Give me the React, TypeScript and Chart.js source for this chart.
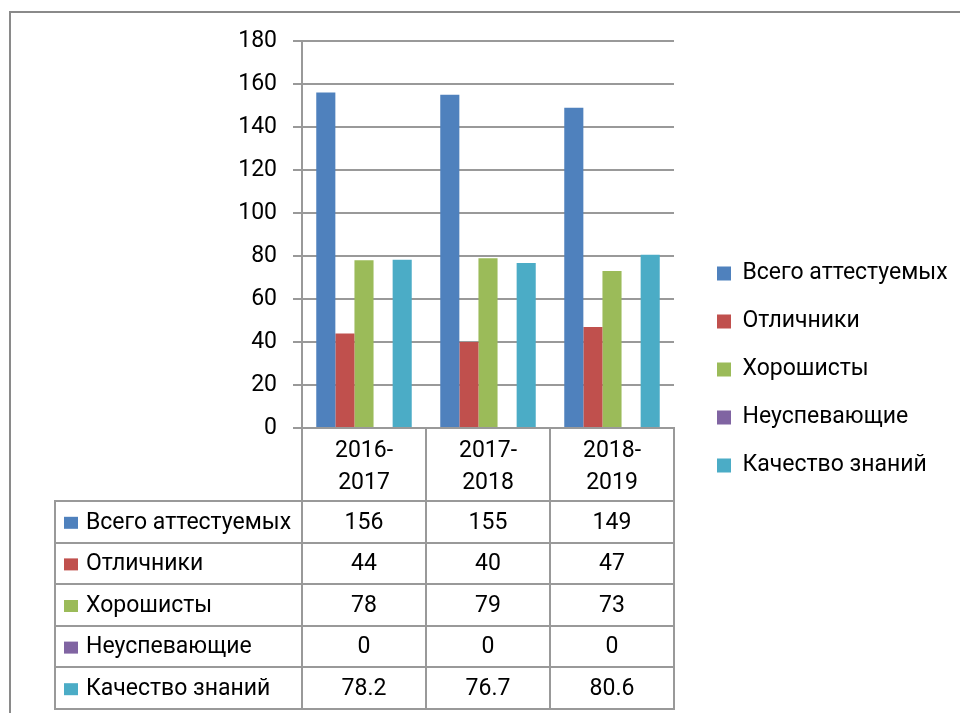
import React, { useEffect, useRef } from "react";
import { Chart, registerables } from "chart.js";

Chart.register(...registerables);

const CATEGORIES: string[][] = [["2016-", "2017"], ["2017-", "2018"], ["2018-", "2019"]];
const SERIES_NAMES = ["Всего аттестуемых", "Отличники", "Хорошисты", "Неуспевающие", "Качество знаний"];
const TOTAL = [156, 155, 149];
const EXCELLENT = [44, 40, 47];
const GOOD = [78, 79, 73];
const FAILING = [0, 0, 0];
const QUALITY = [78.2, 76.7, 80.6];
const SERIES_VALUES = [TOTAL, EXCELLENT, GOOD, FAILING, QUALITY];
const COLORS = ["#4F81BD", "#C0504D", "#9BBB59", "#8064A2", "#4BACC6"];
const Y_MIN = 0;
const Y_MAX = 180;
const Y_STEP = 20;

const FONT = "Roboto";
const FS = 23;
const LINE = "#999999";

const W = 960;
const H = 713;
const PLOT_RIGHT = 674;
const PLOT_BOTTOM = 428;
const PAD_TOP = 41;
const PAD_BOTTOM = 15;
const LEGEND_BOX_LEFT = 717;

export default function App() {
  const ref = useRef<HTMLCanvasElement | null>(null);

  useEffect(() => {
    const canvas = ref.current;
    if (!canvas) return;

    const mctx = document.createElement("canvas").getContext("2d")!;
    mctx.font = `normal ${FS}px ${FONT}`;
    const textW = Math.max(...SERIES_NAMES.map((n) => mctx.measureText(n).width));
    const legendBox = 14;
    const legendPad = 25;
    const itemW = legendBox + FS / 2 + textW;
    let padRight = Math.max(0, W - LEGEND_BOX_LEFT - itemW);
    let spacerW = 17;

    const framePlugin = {
      id: "frame",
      beforeDraw(chart: any) {
        const c = chart.ctx;
        c.save();
        c.strokeStyle = "#8a8a8a";
        c.lineWidth = 2;
        c.beginPath();
        c.moveTo(10, H);
        c.lineTo(10, 12);
        c.lineTo(W, 12);
        c.stroke();
        c.restore();
      },
    };

    const tablePlugin = {
      id: "dataTable",
      afterDraw(chart: any) {
        const c = chart.ctx;
        const area = chart.chartArea;
        const x = chart.scales.x;
        const n = CATEGORIES.length;
        const edges: number[] = [area.left];
        for (let i = 0; i < n - 1; i++) {
          edges.push((x.getPixelForValue(i) + x.getPixelForValue(i + 1)) / 2);
        }
        edges.push(area.right);
        const tableTop = 501;
        const rowH = 41.6;
        const rows = SERIES_NAMES.length;
        const tableBottom = tableTop + rows * rowH;
        const tableLeft = 55;

        c.save();
        c.strokeStyle = LINE;
        c.lineWidth = 2;
        c.beginPath();
        edges.forEach((e) => {
          const xx = Math.round(e);
          c.moveTo(xx, area.bottom);
          c.lineTo(xx, tableBottom);
        });
        c.moveTo(tableLeft, tableTop);
        c.lineTo(tableLeft, tableBottom);
        for (let r = 0; r <= rows; r++) {
          const yy = Math.round(tableTop + r * rowH);
          c.moveTo(tableLeft - 1, yy);
          c.lineTo(Math.round(area.right) + 1, yy);
        }
        c.stroke();

        c.font = `normal ${FS}px ${FONT}`;
        c.fillStyle = "#000";
        c.textBaseline = "middle";
        for (let r = 0; r < rows; r++) {
          const cy = tableTop + r * rowH + rowH / 2;
          c.fillStyle = COLORS[r];
          c.fillRect(64, cy - 5, 14, 12);
          c.fillStyle = "#000";
          c.textAlign = "left";
          c.fillText(SERIES_NAMES[r], 86, cy + 1);
          c.textAlign = "center";
          SERIES_VALUES[r].forEach((v, i) => {
            c.fillText(String(v), x.getPixelForValue(i), cy + 1);
          });
        }
        c.restore();
      },
    };

    const chart = new Chart(canvas, {
      type: "bar",
      data: {
        labels: CATEGORIES,
        datasets: SERIES_NAMES.map((name, i) => ({
          label: name,
          data: SERIES_VALUES[i],
          backgroundColor: COLORS[i],
          borderColor: COLORS[i],
          borderWidth: 0,
          categoryPercentage: 0.77,
          barPercentage: 1.0,
          yAxisID: "y",
        })),
      },
      options: {
        responsive: false,
        animation: false,
        devicePixelRatio: 1,
        layout: { padding: { left: 0, top: PAD_TOP, right: padRight, bottom: PAD_BOTTOM } },
        font: { family: FONT, size: FS },
        plugins: {
          tooltip: { enabled: false },
          legend: {
            position: "right",
            align: "center",
            maxWidth: 600,
            labels: {
              boxWidth: legendBox,
              boxHeight: legendBox,
              padding: legendPad,
              color: "#000",
              font: { family: FONT, size: FS },
            },
          },
        },
        scales: {
          x: {
            type: "category",
            offset: true,
            grid: { display: false, drawTicks: false },
            border: { display: true, color: LINE, width: 2 },
            ticks: {
              color: "#000",
              padding: 8,
              maxRotation: 0,
              autoSkip: false,
              font: { family: FONT, size: FS, lineHeight: 1.36 },
            },
            afterFit: (s: any) => {
              s.height = H - PAD_BOTTOM - PLOT_BOTTOM;
            },
          },
          y: {
            type: "linear",
            position: "left",
            min: Y_MIN,
            max: Y_MAX,
            grid: { color: LINE, lineWidth: 2, drawTicks: true, tickLength: 9 },
            border: { display: true, color: LINE, width: 2 },
            ticks: {
              stepSize: Y_STEP,
              color: "#000",
              padding: 16,
              font: { family: FONT, size: 23 },
            },
            afterFit: (s: any) => {
              s.width = 302;
            },
          },
          spacer: {
            type: "linear",
            position: "right",
            display: true,
            grid: { display: false, drawTicks: false },
            border: { display: false },
            ticks: { display: false },
            afterFit: (s: any) => {
              s.width = spacerW;
            },
          },
        },
      },
      plugins: [framePlugin, tablePlugin],
    } as any);

    // fine-tune: place legend box and plot right edge where the reference has them
    const hb = (chart as any).legend?.legendHitBoxes?.[0];
    if (hb) {
      const delta = LEGEND_BOX_LEFT - hb.left;
      padRight = Math.max(0, padRight - delta);
      spacerW = Math.max(0, spacerW + (chart.chartArea.right + delta - PLOT_RIGHT));
      (chart.options as any).layout.padding.right = padRight;
      chart.update();
    }

    return () => chart.destroy();
  }, []);

  return (
    <div style={{ position: "fixed", left: 0, top: 0, width: W, height: H, background: "#fff" }}>
      <canvas ref={ref} width={W} height={H} style={{ display: "block" }} />
    </div>
  );
}
